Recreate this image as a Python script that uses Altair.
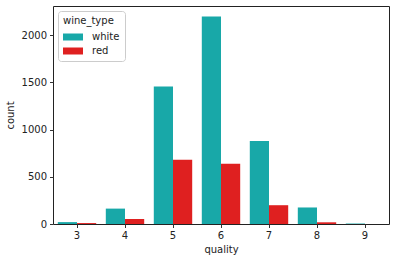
import altair as alt
import pandas as pd

qualities = ["3", "4", "5", "6", "7", "8", "9"]
white_counts = [20, 163, 1457, 2198, 880, 175, 5]
red_counts = [10, 53, 681, 638, 199, 18, 0]
wine_types = ["white", "red"]
colors = ["#18a8a8", "#df2020"]

rows = []
for q, w, r in zip(qualities, white_counts, red_counts):
    rows.append({"quality": q, "wine_type": "white", "count": w})
    rows.append({"quality": q, "wine_type": "red", "count": r})
df = pd.DataFrame(rows)

font = "DejaVu Sans"
chart = alt.Chart(df).mark_bar().encode(
    x=alt.X("quality:N", sort=qualities,
            scale=alt.Scale(paddingInner=0.2, paddingOuter=0.1),
            axis=alt.Axis(labelAngle=0, title="quality", grid=False, domain=False,
                          tickSize=3.5, tickColor="#333", labelColor="#222",
                          labelFontSize=10, titleFontSize=10, titleFontWeight="normal",
                          labelFont=font, titleFont=font, titleColor="#222", labelPadding=3,
                          titlePadding=4)),
    xOffset=alt.XOffset("wine_type:N", sort=wine_types, scale=alt.Scale(paddingInner=0, paddingOuter=0)),
    y=alt.Y("count:Q", scale=alt.Scale(domain=[0, 2308.9], nice=False),
            axis=alt.Axis(values=[0, 500, 1000, 1500, 2000], format="d", grid=False, domain=False,
                          tickSize=3.5, tickColor="#333", labelColor="#222",
                          labelFontSize=10, titleFontSize=10, titleFontWeight="normal",
                          labelFont=font, titleFont=font, titleColor="#222", labelPadding=3,
                          title="count", titlePadding=6)),
    color=alt.Color("wine_type:N", sort=wine_types,
                    scale=alt.Scale(domain=wine_types, range=colors),
                    legend=alt.Legend(title="wine_type", orient="none", legendX=5, legendY=5,
                                      symbolType="M-1,-0.7H3V0.7H-1Z", symbolSize=100,
                                      symbolStrokeWidth=0, symbolOpacity=1,
                                      titleFontSize=10, labelFontSize=10, titleFont=font,
                                      labelFont=font, titleFontWeight="normal",
                                      titleColor="#222", labelColor="#222",
                                      strokeColor="#ccc", cornerRadius=3, padding=5,
                                      fillColor="white", rowPadding=4, labelOffset=19,
                                      titlePadding=6)),
).properties(
    width=336, height=218,
    autosize=alt.AutoSizeParams(type="none"),
    padding={"left": 53, "top": 6, "right": 6, "bottom": 38},
).configure_view(stroke="#222", strokeWidth=1)

chart.save("out.html", embed_options={"renderer": "svg", "actions": False})
